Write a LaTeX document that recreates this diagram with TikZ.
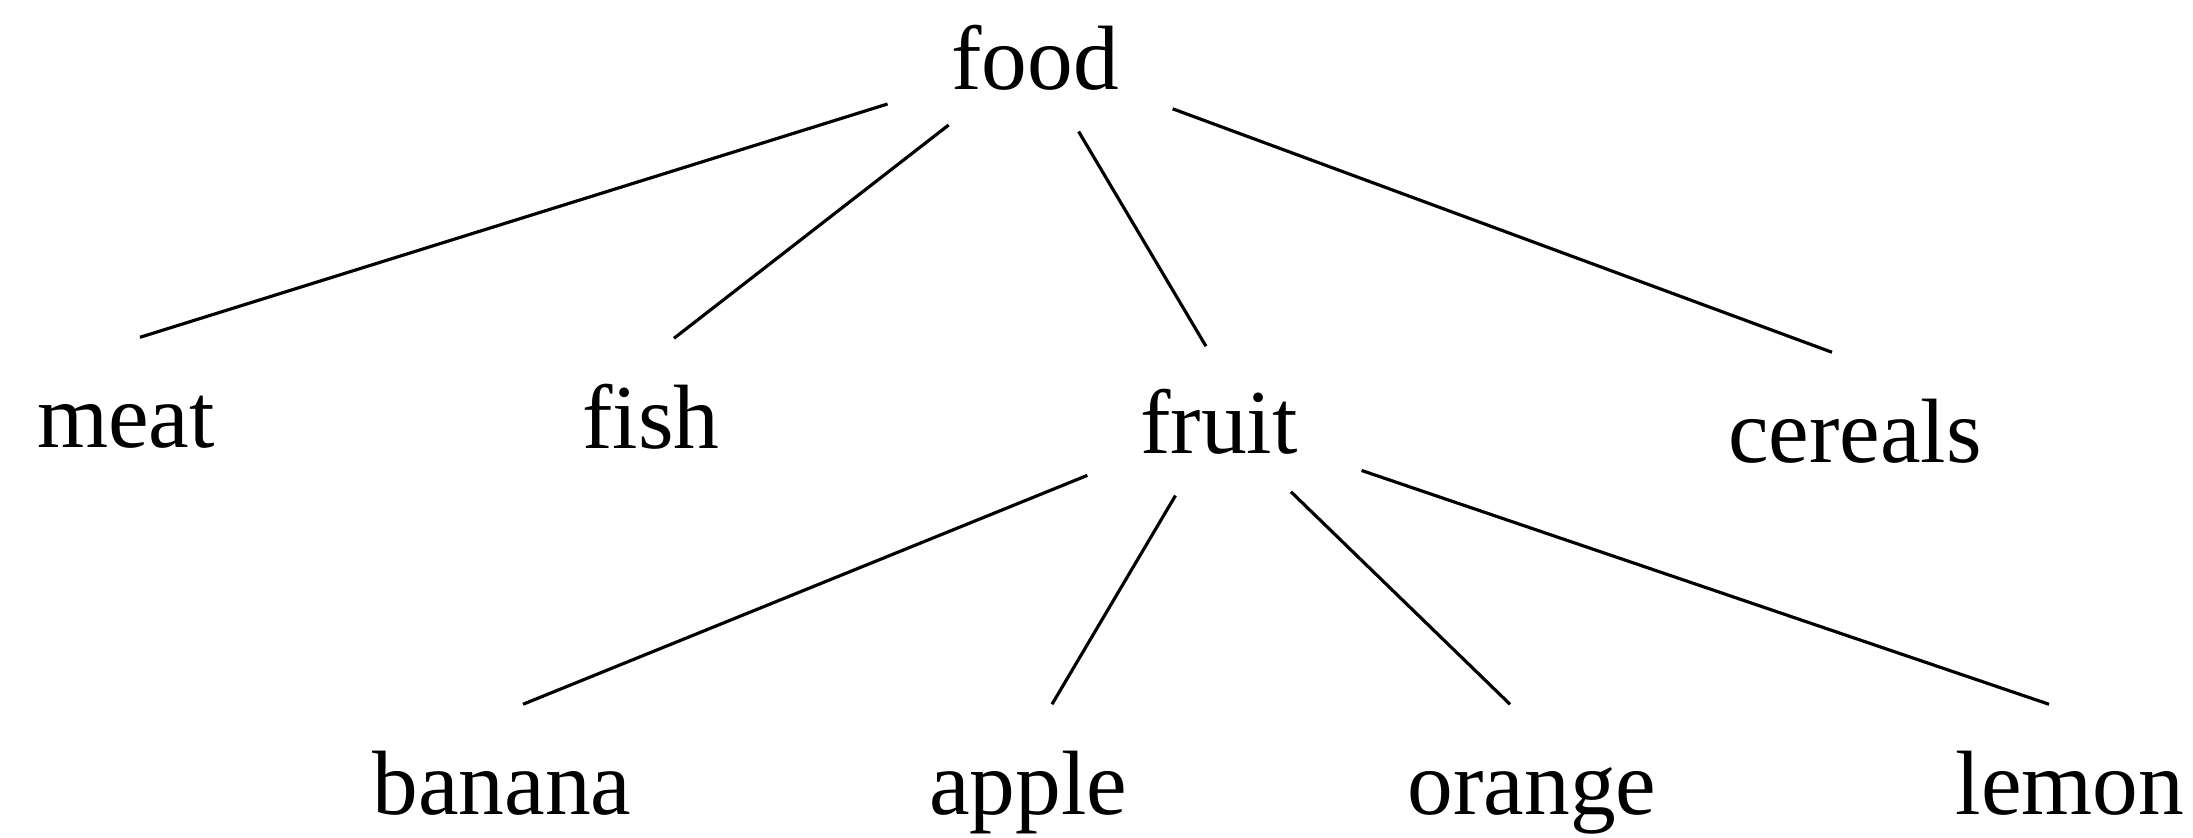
\documentclass[tikz,border=0pt]{standalone}
\usepackage{fontspec}
\setmainfont{Liberation Serif}
\usetikzlibrary{shapes.geometric}
\begin{document}
\begin{tikzpicture}[
    every node/.style={font=\fontsize{26}{30}\selectfont},
    topic/.style={ellipse,inner sep=0pt,minimum width=3.7cm,minimum height=1.5cm},
    item/.style={anchor=base,inner xsep=0pt,inner ysep=0.46cm,text height=0.64cm},
    branch/.style={line width=0.9pt}]
    \useasboundingbox (0,0) rectangle (21.93,8.38);

    % Top level
    \node[topic] (food) at (10.35,7.80) {food};

    % Kinds of food
    \node[item] (meat) at (1.26,3.90) {meat};
    \node[item] (fish) at (6.51,3.89) {fish};
    \node[topic] (fruit) at (12.19,4.16) {fruit};
    \node[item] (cereals) at (18.55,3.75) {cereals};

    % Kinds of fruit
    \node[item] (banana) at (5.02,0.23) {banana};
    \node[item] (apple) at (10.28,0.23) {apple};
    \node[item] (orange) at (15.32,0.23) {orange};
    \node[item] (lemon) at (20.70,0.23) {lemon};

    % Branches from food
    \draw[branch] (food) -- ([xshift=0.14cm]meat.north);
    \draw[branch] (food) -- ([xshift=0.23cm]fish.north);
    \draw[branch] (food) -- ([xshift=-0.13cm]fruit.north);
    \draw[branch] (food) -- ([xshift=-0.23cm]cereals.north);

    % Branches from fruit
    \draw[branch] (fruit) -- ([xshift=0.21cm]banana.north);
    \draw[branch] (fruit) -- ([xshift=0.24cm]apple.north);
    \draw[branch] (fruit) -- ([xshift=-0.22cm]orange.north);
    \draw[branch] (fruit) -- ([xshift=-0.21cm]lemon.north);
\end{tikzpicture}
\end{document}
